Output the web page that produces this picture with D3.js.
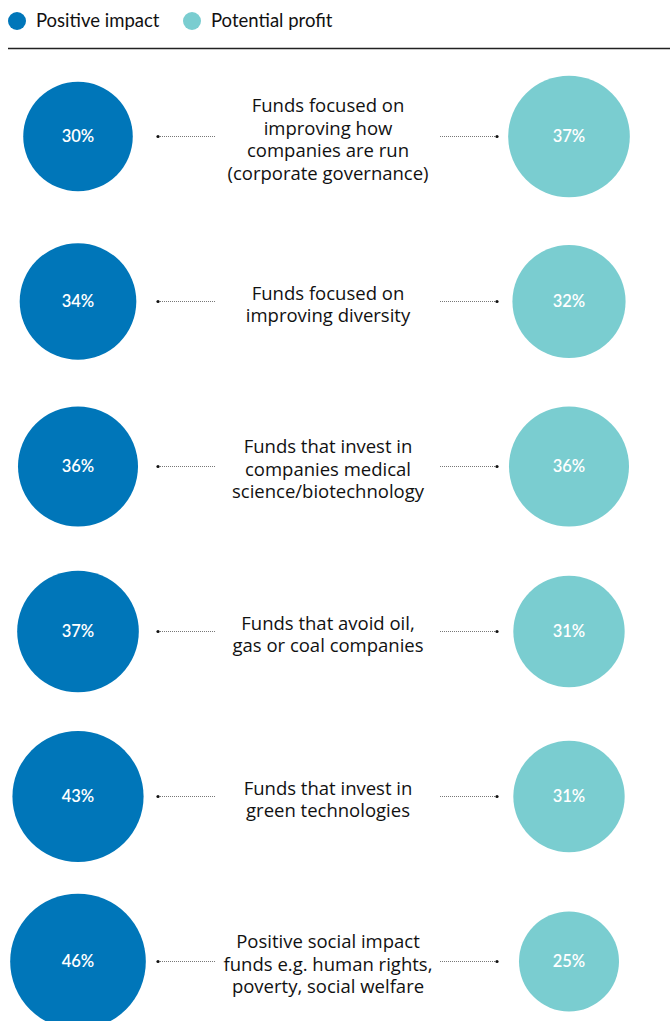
<!DOCTYPE html>
<html>
<head>
<meta charset="utf-8">
<script src="https://cdn.jsdelivr.net/npm/d3@7"></script>
<style>
  body { margin: 0; background: #fff; }
  svg { display: block; }
</style>
</head>
<body>
<div id="chart"></div>
<script>
const categories = [
  ["Funds focused on", "improving how", "companies are run", "(corporate governance)"],
  ["Funds focused on", "improving diversity"],
  ["Funds that invest in", "companies medical", "science/biotechnology"],
  ["Funds that avoid oil,", "gas or coal companies"],
  ["Funds that invest in", "green technologies"],
  ["Positive social impact", "funds e.g. human rights,", "poverty, social welfare"]
]
const positiveImpact = [30, 34, 36, 37, 43, 46]
const potentialProfit = [37, 32, 36, 31, 31, 25]
const seriesNames = ["Positive impact", "Potential profit"]

const width = 670, height = 1021
const blue = "#0076b9", teal = "#7acdd0"

const svg = d3.select("#chart").append("svg")
  .attr("width", width)
  .attr("height", height)

// legend
const legend = svg.append("g")
const legendX = [17, 192]
seriesNames.forEach((name, i) => {
  legend.append("circle")
    .attr("cx", legendX[i])
    .attr("cy", 21)
    .attr("r", 9)
    .attr("fill", i === 0 ? blue : teal)
  legend.append("text")
    .attr("x", legendX[i] + 19)
    .attr("y", 21)
    .attr("dy", "0.35em")
    .attr("font-family", "Lato, sans-serif")
    .attr("font-size", "18.5px")
    .attr("fill", "#111")
    .text(name)
})

svg.append("line")
  .attr("x1", 8).attr("x2", width)
  .attr("y1", 48.5).attr("y2", 48.5)
  .attr("stroke", "#222")
  .attr("stroke-width", 1.5)

const y = d3.scaleBand()
  .domain(d3.range(categories.length))
  .range([54, 54 + 165 * 6])
  .paddingInner(0)

// area-proportional radius
const r = d3.scaleSqrt().domain([0, 100]).range([0, 100])

const xLeft = 78, xRight = 569, xMid = 328

const row = svg.selectAll("g.row")
  .data(categories)
  .enter()
  .append("g")
  .attr("class", "row")
  .attr("transform", (d, i) => `translate(0,${y(i) + y.bandwidth() / 2})`)

row.append("circle")
  .attr("cx", xLeft)
  .attr("r", (d, i) => r(positiveImpact[i]))
  .attr("fill", blue)

row.append("circle")
  .attr("cx", xRight)
  .attr("r", (d, i) => r(potentialProfit[i]))
  .attr("fill", teal)

row.append("text")
  .attr("x", xLeft)
  .attr("dy", "0.35em")
  .attr("text-anchor", "middle")
  .attr("font-family", "Lato, sans-serif")
  .attr("font-weight", 600)
  .attr("font-size", "16.5px")
  .attr("fill", "#fff")
  .text((d, i) => positiveImpact[i] + "%")

row.append("text")
  .attr("x", xRight)
  .attr("dy", "0.35em")
  .attr("text-anchor", "middle")
  .attr("font-family", "Lato, sans-serif")
  .attr("font-weight", 600)
  .attr("font-size", "16.5px")
  .attr("fill", "#fff")
  .text((d, i) => potentialProfit[i] + "%")

// dotted connectors
const connectors = [[158, 216], [440, 497]]
connectors.forEach(c => {
  row.append("line")
    .attr("x1", c[0]).attr("x2", c[1])
    .attr("y1", 0).attr("y2", 0)
    .attr("stroke", "#777")
    .attr("stroke-width", 1)
    .attr("stroke-dasharray", "1,1")
})
row.append("circle").attr("cx", 158).attr("r", 1.6).attr("fill", "#111")
row.append("circle").attr("cx", 497).attr("r", 1.6).attr("fill", "#111")

// middle label
const lineH = 22.5
row.append("text")
  .attr("text-anchor", "middle")
  .attr("font-family", "'Open Sans', 'Noto Sans', sans-serif")
  .attr("font-size", "18.5px")
  .attr("fill", "#111")
  .each(function(d) {
    const t = d3.select(this)
    d.forEach((line, j) => {
      t.append("tspan")
        .attr("x", xMid)
        .attr("y", (j - (d.length - 1) / 2) * lineH + 3)
        .attr("dy", "0.35em")
        .text(line)
    })
  })
</script>
</body>
</html>
